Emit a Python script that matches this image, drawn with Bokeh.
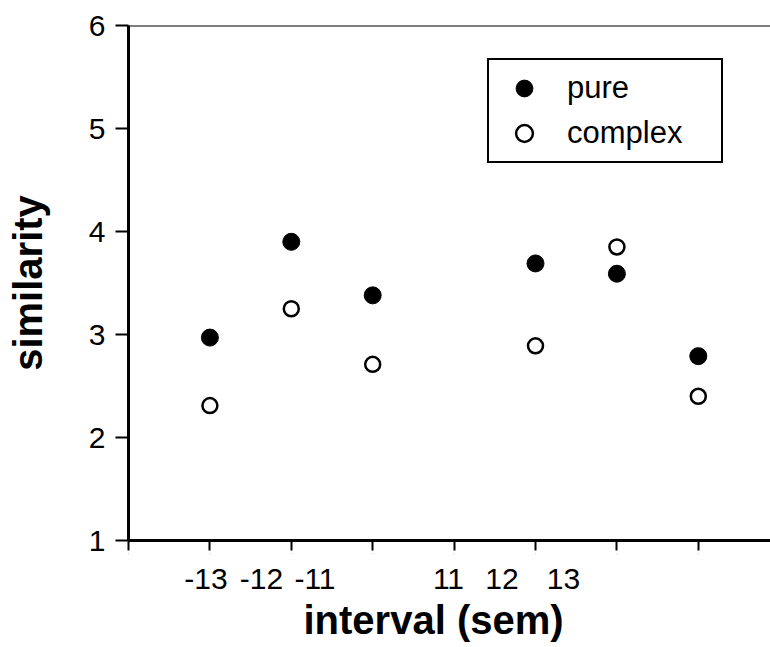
from bokeh.plotting import figure
from bokeh.models import (LinearAxis, FixedTicker, CustomJSTickFormatter, Legend,
                          LegendItem, Span, Range1d, Title)
from bokeh.embed import file_html
from bokeh.resources import INLINE

# ---- data ----
intervals = [1, 2, 3, 5, 6, 7]
pure = [2.97, 3.90, 3.38, 3.69, 3.59, 2.79]
complex_vals = [2.31, 3.25, 2.71, 2.89, 3.85, 2.40]
y_ticks = [1, 2, 3, 4, 5, 6]
x_ticks = [0, 1, 2, 3, 4, 5, 6, 7]
interval_labels = ["-13", "-12", "-11", "11", "12", "13"]
interval_label_pos = [0.952, 1.634, 2.291, 3.931, 4.588, 5.344]
x_title = "interval (sem)"
y_title = "similarity"

FONT = "Liberation Sans"

p = figure(width=770, height=647, x_range=Range1d(0, 7.887), y_range=Range1d(1, 6),
           output_backend="svg", toolbar_location=None,
           min_border_left=128, min_border_right=0, min_border_top=25, min_border_bottom=107)
p.grid.visible = False
p.outline_line_color = None
p.background_fill_color = "white"
p.border_fill_color = "white"

# bottom axis with ticks
xa = p.xaxis[0]
xa.ticker = FixedTicker(ticks=x_ticks)
xa.formatter = CustomJSTickFormatter(code="return \"'\";")
xa.axis_line_width = 3
xa.major_tick_out = 10
xa.major_tick_in = 0
xa.major_tick_line_width = 2
xa.minor_tick_line_color = None
xa.major_label_text_font_size = "5px"
xa.major_label_text_color = "#999999"
xa.major_label_standoff = 1

# second bottom axis carrying the interval labels
xa2 = LinearAxis(ticker=FixedTicker(ticks=interval_label_pos),
                 formatter=CustomJSTickFormatter(args=dict(labels=interval_labels),
                                                 code="return labels[index];"),
                 axis_line_color=None, major_tick_line_color=None, minor_tick_line_color=None,
                 major_tick_out=0, major_tick_in=0, major_label_standoff=8,
                 major_label_text_font_size="30px", major_label_text_font=FONT,
                 major_label_text_color="black")
p.add_layout(xa2, "below")

# x title, a little left of the frame centre as in the original
p.add_layout(Title(text=x_title, align="left", offset=175, standoff=9,
                   text_font_size="40px", text_font_style="bold", text_font=FONT,
                   text_color="black"), "below")

ya = p.yaxis[0]
ya.ticker = FixedTicker(ticks=y_ticks)
ya.axis_line_width = 3
ya.major_tick_out = 13
ya.major_tick_in = 0
ya.major_tick_line_width = 2
ya.minor_tick_line_color = None
ya.major_label_text_font_size = "30px"
ya.major_label_text_font = FONT
ya.major_label_text_color = "black"
ya.major_label_standoff = 10
ya.axis_label = y_title
ya.axis_label_text_font_size = "40px"
ya.axis_label_text_font_style = "bold"
ya.axis_label_text_font = FONT
ya.axis_label_text_color = "black"
ya.axis_label_standoff = 36

# top frame line
p.add_layout(Span(location=6, dimension="width", line_width=2, line_color="black",
                  line_alpha=1))

r1 = p.scatter(intervals, pure, size=17, marker="circle", fill_color="black",
               line_color="black", line_width=1)
r2 = p.scatter(intervals, complex_vals, size=15, marker="circle", fill_color="white",
               line_color="black", line_width=2.5)

legend = Legend(items=[LegendItem(label="pure", renderers=[r1]),
                       LegendItem(label="complex", renderers=[r2])],
                location=(359, 377), padding=7, spacing=3,
                glyph_width=56, glyph_height=42, label_height=42, label_width=147,
                label_standoff=15, label_text_font_size="31px", label_text_font=FONT,
                label_text_color="black",
                border_line_color="black", border_line_width=2, border_line_alpha=1,
                margin=0, background_fill_color="white", background_fill_alpha=1)
p.add_layout(legend)

open("out.html", "w").write(file_html(p, INLINE))
